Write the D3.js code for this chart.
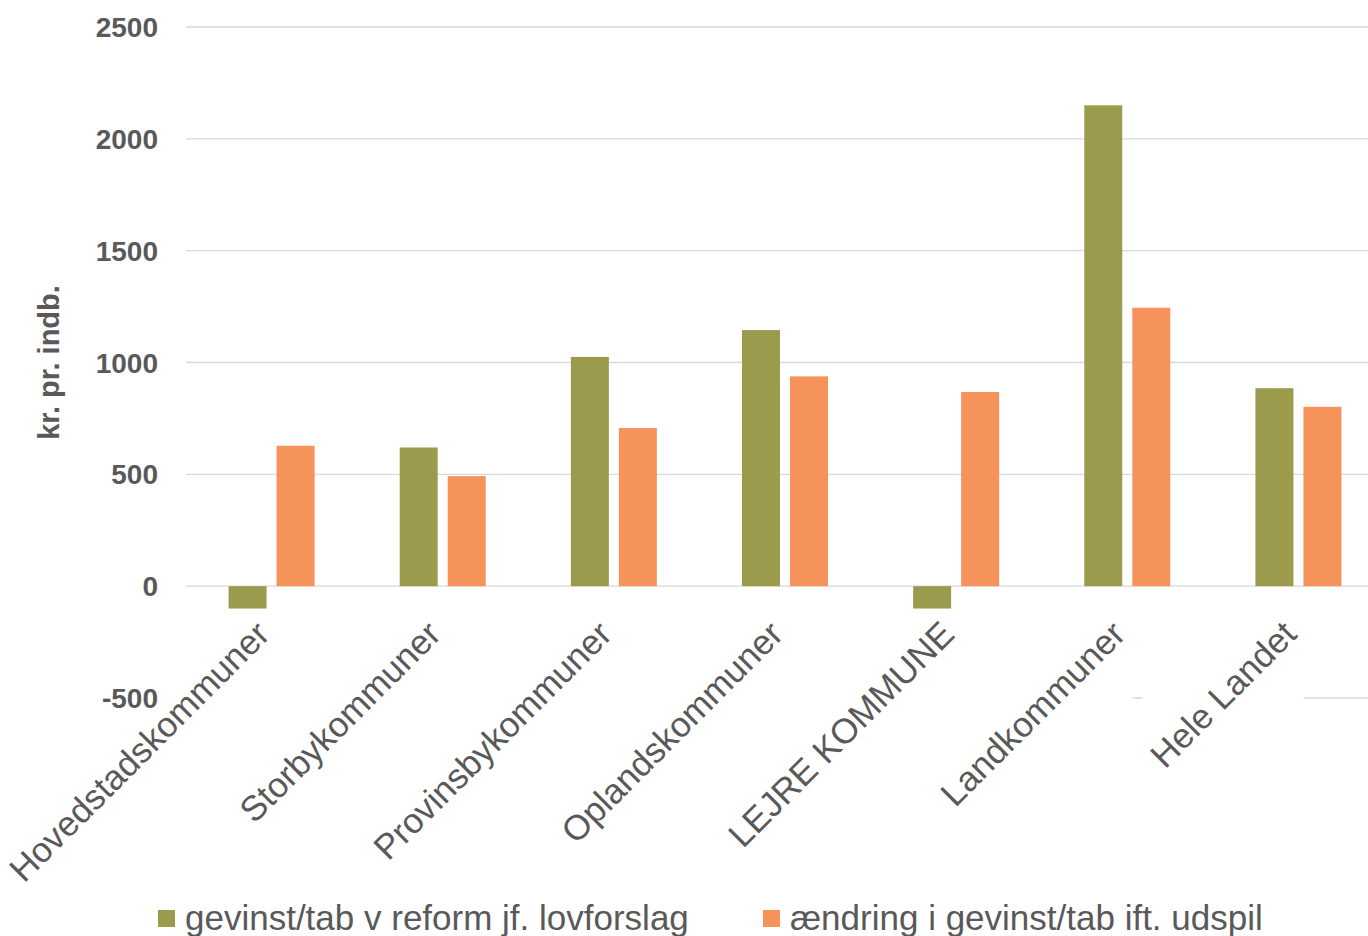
<!DOCTYPE html>
<html>
<head>
<meta charset="utf-8">
<script src="https://cdn.jsdelivr.net/npm/d3@7"></script>
<style>
  body { margin: 0; background: #fff; }
  text { font-family: "Liberation Sans", Arial, sans-serif; }
</style>
</head>
<body>
<svg id="chart" width="1368" height="936"></svg>
<script>
const categories = ["Hovedstadskommuner", "Storbykommuner", "Provinsbykommuner", "Oplandskommuner", "LEJRE KOMMUNE", "Landkommuner", "Hele Landet"];
const seriesNames = ["gevinst/tab v reform jf. lovforslag", "ændring i gevinst/tab ift. udspil"];
const gevinst = [-100, 620, 1025, 1145, -100, 2150, 885];
const aendring = [628, 492, 707, 938, 868, 1245, 802];
const yTicks = [-500, 0, 500, 1000, 1500, 2000, 2500];

const colors = ["#9c9b4d", "#f6935a"];
const width = 1368, height = 936;
// plot runs a little past the right edge, as in the original (cropped)
const margin = { top: 27, right: -16, bottom: 238, left: 186 };

const svg = d3.select("#chart");

const x = d3.scaleBand()
  .domain(categories)
  .range([margin.left, width - margin.right]);

const y = d3.scaleLinear()
  .domain([-500, 2500])
  .range([height - margin.bottom, margin.top]);

// gridlines
svg.append("g")
  .selectAll("line")
  .data(yTicks)
  .join("line")
  .attr("x1", margin.left)
  .attr("x2", width)
  .attr("y1", d => y(d))
  .attr("y2", d => y(d))
  .attr("stroke", "#d9d9d9")
  .attr("stroke-width", 1.3);

// bars
const barW = 38, gap = 10;
const x1 = d3.scaleOrdinal().domain([0, 1]).range([-gap / 2 - barW, gap / 2]);
const rows = categories.map((c, i) => ({ c, vals: [gevinst[i], aendring[i]] }));

const groups = svg.append("g")
  .selectAll("g")
  .data(rows)
  .join("g")
  .attr("transform", d => `translate(${x(d.c) + x.bandwidth() / 2},0)`);

groups.selectAll("rect")
  .data(d => d.vals.map((v, k) => ({ v, k })))
  .join("rect")
  .attr("x", d => x1(d.k))
  .attr("width", barW)
  .attr("y", d => y(Math.max(0, d.v)))
  .attr("height", d => Math.abs(y(d.v) - y(0)))
  .attr("fill", d => colors[d.k]);

// category labels, each on a white box (this hides the -500 gridline like the original)
const labelG = svg.append("g");
const labels = labelG.selectAll("text")
  .data(categories)
  .join("text")
  .attr("transform", d => `translate(${x(d) + x.bandwidth() / 2},${y(0) + 50}) rotate(-45)`)
  .attr("text-anchor", "end")
  .attr("font-size", "35px")
  .attr("fill", "#595959")
  .text(d => d);

const svgBox = svg.node().getBoundingClientRect();
labels.each(function () {
  const b = this.getBoundingClientRect();
  labelG.insert("rect", "text")
    .attr("x", b.left - svgBox.left)
    .attr("y", b.top - svgBox.top)
    .attr("width", b.width)
    .attr("height", b.height)
    .attr("fill", "#fff");
});

// y tick labels
svg.append("g")
  .selectAll("text")
  .data(yTicks)
  .join("text")
  .attr("x", 158)
  .attr("y", d => y(d) + 10)
  .attr("text-anchor", "end")
  .attr("font-size", "28px")
  .attr("font-weight", "bold")
  .attr("fill", "#595959")
  .text(d => d);

// y title
svg.append("text")
  .attr("transform", `translate(59,${(y(2500) + y(-500)) / 2}) rotate(-90)`)
  .attr("text-anchor", "middle")
  .attr("font-size", "29px")
  .attr("font-weight", "bold")
  .attr("fill", "#595959")
  .text("kr. pr. indb.");

// legend
const legend = svg.append("g").attr("transform", "translate(0,918)");
const legendX = [158, 763];
seriesNames.forEach((s, i) => {
  legend.append("rect")
    .attr("x", legendX[i])
    .attr("y", -8)
    .attr("width", 17)
    .attr("height", 17)
    .attr("fill", colors[i]);
  legend.append("text")
    .attr("x", legendX[i] + 27)
    .attr("y", 12)
    .attr("font-size", "35px")
    .attr("fill", "#595959")
    .text(s);
});
</script>
</body>
</html>
